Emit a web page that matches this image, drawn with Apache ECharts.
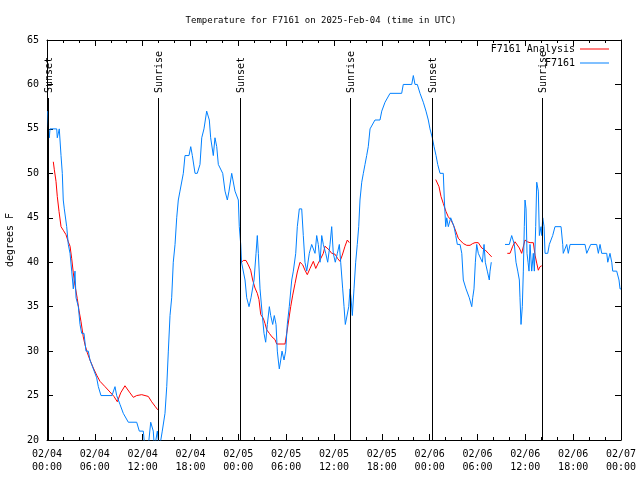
<!DOCTYPE html>
<html>
<head>
<meta charset="utf-8">
<script src="https://cdn.jsdelivr.net/npm/echarts@6/dist/echarts.min.js"></script>
<style>html,body{margin:0;padding:0;background:#fff}#c{width:640px;height:480px}</style>
</head>
<body>
<div id="c"></div>
<script>
// ---- data (hours since 2025-02-04 00:00 UTC, degrees F) ----
var titleText = 'Temperature for F7161 on 2025-Feb-04 (time in UTC)';
var yAxisTitle = 'degrees F';
var xTickLabels = ['02/04\n00:00','02/04\n06:00','02/04\n12:00','02/04\n18:00','02/05\n00:00','02/05\n06:00','02/05\n12:00','02/05\n18:00','02/06\n00:00','02/06\n06:00','02/06\n12:00','02/06\n18:00','02/07\n00:00'];
var xMin = 0, xMax = 72, xStep = 6;
var yMin = 20, yMax = 65, yStep = 5;

var obsName = 'F7161';
var obsHours = [0.09,0.19,0.29,0.38,1.22,1.29,1.42,1.54,1.67,1.76,1.92,2.04,2.17,2.47,2.67,2.89,3.10,3.30,3.51,3.64,3.93,4.14,4.35,4.64,4.89,5.18,5.39,5.81,6.23,6.44,6.77,8.15,8.32,8.53,8.74,8.91,9.16,9.57,10.20,11.25,11.58,12.08,12.29,12.67,13.01,13.33,13.48,13.84,14.09,14.24,14.46,14.80,15.02,15.22,15.43,15.64,15.84,16.06,16.27,16.47,16.68,16.90,17.10,17.31,17.81,18.03,18.23,18.57,18.85,19.19,19.41,19.69,20.03,20.16,20.36,20.53,20.86,21.07,21.29,21.49,21.70,22.04,22.33,22.62,22.83,23.17,23.37,23.58,23.80,24.00,24.12,24.30,24.40,24.59,24.84,25.05,25.34,25.59,25.80,25.97,26.22,26.38,26.51,26.72,27.01,27.22,27.43,27.64,27.89,28.06,28.31,28.51,28.73,28.89,29.01,29.14,29.32,29.48,29.73,29.94,30.14,30.39,30.70,30.90,31.20,31.40,31.65,31.95,32.15,32.36,32.58,32.90,33.20,33.41,33.62,33.83,34.03,34.25,34.46,34.66,34.96,35.21,35.50,35.71,35.91,36.16,36.42,36.67,36.84,37.09,37.26,37.42,37.67,37.85,38.01,38.13,38.30,38.51,38.72,38.92,39.10,39.26,39.48,39.68,39.89,40.10,40.30,40.52,40.73,41.14,41.77,41.99,42.40,42.61,43.03,44.49,44.69,45.75,45.95,46.16,46.45,46.79,47.20,47.54,47.83,48.04,48.33,48.55,48.80,49.01,49.30,49.71,49.84,50.01,50.14,50.34,50.64,50.84,51.06,51.27,51.47,51.81,52.03,52.22,52.56,52.77,52.97,53.15,53.28,53.40,53.56,53.73,53.90,54.10,54.32,54.61,54.82,54.98,55.23,55.48,55.57,55.73,56.60,57.45,57.99,58.29,58.49,58.62,58.83,59.05,59.25,59.33,59.46,59.62,59.75,59.87,59.96,60.09,60.21,60.34,60.46,60.59,60.80,61.00,61.13,61.30,61.43,61.63,61.76,61.97,62.06,62.18,62.35,62.47,62.81,63.01,63.22,63.43,63.72,64.48,64.69,64.76,64.98,65.19,65.39,65.61,67.49,67.70,67.90,68.20,68.95,69.16,69.37,69.58,70.21,70.34,70.54,70.62,70.84,70.96,71.46,71.75,71.88,72.00];
var obsTemps = [57,55,54,55,55,54,54,55,55,52,50,47,46,44,42,41,39,37,39,36,35,33,32,32,30,30,29,28,27,26,25,25,25,26,25,25,24,23,22,22,21,21,19,19,22,21,19,21,19,19,21,23,26,30,34,36,40,42,45,47,48,48,50,52,52,53,52,50,50,51,54,55,57,57,56,54,52,54,53,51,51,50,48,47,48,50,50,48,48,47,44,42,40,40,38,36,35,36,36,38,41,43,41,37,34,32,31,33,35,34,33,34,33,30,29,28,29,30,29,30,33,35,38,39,41,44,46,46,43,40,39,41,42,42,41,43,42,40,43,42,41,40,42,44,41,40,41,42,40,37,35,33,33,35,37,36,34,37,40,42,44,47,49,50,51,52,53,55,55,56,56,57,58,58,59,59,60,60,61,60,60,59,58,57,56,55,54,53,52,51,50,50,47,44,45,44,45,45,44,43,42,42,41,38,37,37,36,36,35,36,37,40,42,41,41,40,42,40,39,38,39,40,null,42,42,43,43,42,40,39,38,36,33,35,39,44,47,46,41,40,39,42,39,41,39,44,49,48,43,44,43,45,44,41,41,42,42,43,44,44,42,41,41,42,41,42,42,41,41,42,42,41,42,41,41,40,40,41,40,39,39,38,37,37];

var anaName = 'F7161 Analysis';
var anaHours = [0.79,0.92,1.13,1.29,1.51,1.76,2.04,2.38,2.67,2.89,3.10,3.30,3.51,3.80,4.01,4.27,4.55,4.77,5.06,5.39,5.81,6.23,6.65,7.28,7.90,8.40,8.82,9.24,9.78,10.41,10.83,11.25,11.88,12.71,13.13,13.55,13.89,19.00,24.30,24.62,24.96,25.25,25.55,25.80,26.09,26.38,26.59,26.81,27.13,27.35,27.56,27.89,28.22,28.60,28.81,29.86,30.07,30.32,30.57,30.82,31.11,31.40,31.74,32.08,32.36,32.65,32.99,33.41,33.71,34.03,34.33,34.66,34.87,35.09,35.37,35.71,36.13,36.47,36.75,37.04,37.38,37.67,37.92,43.00,48.76,48.96,49.17,49.42,49.71,50.05,50.34,50.64,50.97,51.31,51.59,51.89,52.22,52.65,53.06,53.40,53.69,54.10,54.53,54.94,55.36,55.78,56.70,57.74,58.08,58.42,58.71,58.92,59.25,59.54,59.75,59.96,60.25,60.59,61.00,61.22,61.43,61.63,61.84,62.06];
var anaTemps = [51.3,50.4,49.1,47.4,45.7,44.0,43.6,43.1,42.3,41.8,40.4,38.8,37.4,35.9,34.6,33.3,31.6,30.7,29.8,29.0,28.1,27.3,26.6,26.0,25.4,24.9,24.3,25.3,26.1,25.3,24.8,25.0,25.1,24.9,24.3,23.8,23.4,null,39.9,40.2,40.2,39.7,39.1,38.0,37.1,36.5,35.8,34.1,33.7,33.1,32.4,32.0,31.6,31.3,30.8,30.8,32.0,33.5,35.0,36.3,37.6,38.9,40.0,39.7,39.1,38.6,39.3,40.1,39.3,39.9,40.4,41.0,41.8,41.8,41.4,41.0,40.9,40.4,40.1,40.8,41.8,42.5,42.2,null,49.3,49.1,48.5,47.4,46.6,45.7,45.1,44.8,44.2,43.4,42.7,42.4,42.1,41.9,41.9,42.1,42.2,42.2,41.6,41.4,41.0,40.6,null,41.0,41.0,41.8,42.3,42.3,41.6,41.0,40.9,42.5,42.3,42.2,42.2,40.8,39.9,39.1,39.5,39.6];

var sunHours = [0.16, 13.92, 24.18, 37.95, 48.28, 62.05];
var sunLabels = ['Sunset','Sunrise','Sunset','Sunrise','Sunset','Sunrise'];

// ---- chart ----
var FONT = 'DejaVu Sans Mono';
function pairs(xs, ys){ return xs.map(function(x,i){ return [x, ys[i]]; }); }

var chart = echarts.init(document.getElementById('c'), null, {renderer:'canvas'});
var tickStyle = {color:'#000', width:1};
var xBase = {
  type:'value', min:xMin, max:xMax, interval:xStep,
  axisLine:{show:true, onZero:false, lineStyle:tickStyle},
  axisTick:{show:true, inside:true, length:6, lineStyle:tickStyle},
  minorTick:{show:true, splitNumber:3, length:3, lineStyle:tickStyle},
  splitLine:{show:false}, minorSplitLine:{show:false}
};
var yBase = {
  type:'value', min:yMin, max:yMax, interval:yStep,
  axisLine:{show:true, onZero:false, lineStyle:tickStyle},
  axisTick:{show:true, inside:true, length:6, lineStyle:tickStyle},
  splitLine:{show:false}
};
var option = {
  animation:false,
  backgroundColor:'#fff',
  title:{text:titleText, left:316, top:11, textAlign:'center',
    textStyle:{fontFamily:FONT, fontSize:9, fontWeight:'normal', color:'#000'}},
  legend:[
    {data:[anaName], right:26, top:39, align:'right', icon:'rect', itemWidth:29, itemHeight:1,
      textStyle:{fontFamily:FONT, fontSize:10, color:'#000'}},
    {data:[obsName], right:26, top:53, align:'right', icon:'rect', itemWidth:29, itemHeight:1,
      textStyle:{fontFamily:FONT, fontSize:10, color:'#000'}}
  ],
  grid:{left:47, right:19, top:40, bottom:40, containLabel:false, outerBoundsMode:'none'},
  xAxis:[
    Object.assign({}, xBase, {position:'bottom',
      axisLabel:{show:true, margin:8, fontFamily:FONT, fontSize:10, color:'#000', lineHeight:13,
        formatter:function(v){ var i = Math.round((v - xMin)/xStep); return xTickLabels[i] || ''; }}}),
    Object.assign({}, xBase, {position:'top', axisLabel:{show:false}})
  ],
  yAxis:[
    Object.assign({}, yBase, {position:'left', name:yAxisTitle, nameLocation:'middle', nameGap:32, nameRotate:90,
      nameTextStyle:{fontFamily:FONT, fontSize:10, color:'#000'},
      axisLabel:{show:true, margin:8, fontFamily:FONT, fontSize:10, color:'#000'}}),
    Object.assign({}, yBase, {position:'right', axisLabel:{show:false}})
  ],
  series:[
    {name:anaName, type:'line', data:pairs(anaHours, anaTemps), showSymbol:false, symbol:'none',
      connectNulls:false, color:'#ff0000', lineStyle:{color:'#ff0000', width:1}, z:2},
    {name:obsName, type:'line', data:pairs(obsHours, obsTemps), showSymbol:false, symbol:'none',
      connectNulls:false, color:'#0080ff', lineStyle:{color:'#0080ff', width:1}, z:3},
    {name:'sun', type:'custom', data:sunHours.map(function(h){ return [h, yMin]; }), z:4,
      encode:{x:0, y:1}, clip:false,
      renderItem:function(params, api){
        var cs = params.coordSys;
        var x = Math.round(api.coord([api.value(0), yMin])[0]) + 0.5;
        return {type:'group', children:[
          {type:'line', shape:{x1:x, y1:cs.y + 58, x2:x, y2:cs.y + cs.height},
            style:{stroke:'#000', lineWidth:1}},
          {type:'text', x:x + 1, y:cs.y + 53, rotation:Math.PI/2,
            style:{text:sunLabels[params.dataIndex], fill:'#000', font:'10px ' + FONT,
              align:'left', verticalAlign:'middle'}}
        ]};
      }}
  ]
};
chart.setOption(option);
</script>
</body>
</html>
